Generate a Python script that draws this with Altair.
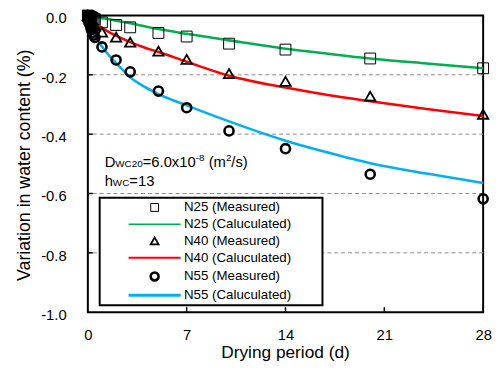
import altair as alt
import pandas as pd

# ---------------- data ----------------
days_meas = [0, 0.042, 0.083, 0.125, 0.167, 0.208, 0.25, 0.333, 0.417, 0.5,
             1, 2, 3, 5, 7, 10, 14, 20, 28]
n25_meas = [0, -0.002, -0.003, -0.004, -0.005, -0.006, -0.007, -0.009, -0.011, -0.013,
            -0.023, -0.032, -0.040, -0.059, -0.071, -0.095, -0.115, -0.145, -0.178]
n40_meas = [0, -0.004, -0.008, -0.012, -0.015, -0.018, -0.021, -0.026, -0.031, -0.036,
            -0.056, -0.073, -0.090, -0.120, -0.148, -0.196, -0.222, -0.272, -0.333]
n55_meas = [0, -0.010, -0.018, -0.026, -0.033, -0.040, -0.047, -0.057, -0.066, -0.074,
            -0.106, -0.150, -0.190, -0.255, -0.311, -0.389, -0.449, -0.535, -0.618]

days_calc = [0, 0.1, 0.25, 0.5, 1, 1.5, 2, 3, 4, 5, 7, 10, 14, 17, 20, 24, 28]
n25_calc = [0, -0.002, -0.003, -0.005, -0.009, -0.013, -0.018, -0.026, -0.036, -0.046,
            -0.062, -0.084, -0.112, -0.129, -0.145, -0.162, -0.178]
n40_calc = [0, -0.007, -0.015, -0.025, -0.042, -0.056, -0.068, -0.090, -0.108, -0.123,
            -0.156, -0.203, -0.243, -0.268, -0.289, -0.315, -0.339]
n55_calc = [0, -0.030, -0.050, -0.068, -0.105, -0.135, -0.160, -0.208, -0.240, -0.265,
            -0.303, -0.357, -0.422, -0.462, -0.498, -0.533, -0.565]

series_names = ["N25 (Measured)", "N25 (Caluculated)",
                "N40 (Measured)", "N40 (Caluculated)",
                "N55 (Measured)", "N55 (Caluculated)"]

x_ticks = [0, 7, 14, 21, 28]
y_ticks = [0, -0.2, -0.4, -0.6, -0.8, -1.0]
grid_vals = [-0.2, -0.4, -0.6, -0.8]
inner_x_ticks = [7, 14, 21]

x_title = "Drying period (d)"
y_title = "Variation in water content (%)"

# ---------------- styles ----------------
FONT = "Liberation Sans"
LINE_PATH = "M-6.6,0H6.6"
shape_range = ["square", LINE_PATH, "triangle-up", LINE_PATH, "circle", LINE_PATH]
stroke_range = ["black", "#00B050", "black", "#FF0000", "black", "#00B0F0"]
sw_range = [1.0, 3, 1.0, 3, 1.0, 3]

meas_df = pd.concat([
    pd.DataFrame({"day": days_meas, "value": v, "series": s})
    for v, s in [(n25_meas, series_names[0]), (n40_meas, series_names[2]), (n55_meas, series_names[4])]
])
calc_df = pd.concat([
    pd.DataFrame({"day": days_calc, "value": v, "series": s})
    for v, s in [(n25_calc, series_names[1]), (n40_calc, series_names[3]), (n55_calc, series_names[5])]
])

xscale = alt.Scale(domain=[0, 28], nice=False, zero=False)
yscale = alt.Scale(domain=[-1, 0], nice=False, zero=False)

leg = dict(
    title="\u00a0", titleOrient="right", titlePadding=29, titleFontSize=10,
    orient="none", legendX=12, legendY=185,
    strokeColor="black", fillColor="white",
    padding=3, rowPadding=2, symbolSize=64,
    symbolOffset=46, labelOffset=23,
    labelFont=FONT, labelFontSize=13.5, labelColor="black",
)

grid = alt.Chart(pd.DataFrame({"value": grid_vals})).mark_rule(
    color="#8c8c8c", strokeDash=[4, 3], strokeWidth=1
).encode(
    y=alt.Y("value:Q", scale=yscale,
            axis=alt.Axis(values=y_ticks, labelExpr="datum.value == 0 ? '0.0' : '-' + format(abs(datum.value), '.1f')",
                          labelFont=FONT, labelFontSize=15, labelColor="black", labelPadding=22,
                          labelOffset=2.5,
                          ticks=False, tickSize=0, domain=False, grid=False, title=None)),
)

xaxis_layer = alt.Chart(pd.DataFrame({"day": inner_x_ticks})).mark_rule(
    color="black", strokeWidth=1.5
).encode(
    x=alt.X("day:Q", scale=xscale,
            axis=alt.Axis(values=x_ticks, format="d", labelFlush=False,
                          labelFont=FONT, labelFontSize=15, labelColor="black", labelPadding=16,
                          ticks=False, tickSize=0, domain=False, grid=False, title=None)),
    y=alt.datum(-1.0),
    y2=alt.datum(-0.983),
)

yticks_layer = alt.Chart(pd.DataFrame({"value": grid_vals})).mark_rule(
    color="black", strokeWidth=1.5
).encode(
    y="value:Q",
    x=alt.datum(0),
    x2=alt.datum(0.35),
)

# axis titles as text placed through the scales (outside the plot area)
ytitle_layer = alt.Chart(pd.DataFrame({"t": [y_title]})).mark_text(
    angle=270, fontSize=18, font=FONT, color="black", align="center", baseline="middle"
).encode(x=alt.datum(-4.43), y=alt.datum(-0.505), text="t:N")

xtitle_layer = alt.Chart(pd.DataFrame({"t": [x_title]})).mark_text(
    fontSize=17.5, font=FONT, color="black", align="center", baseline="middle"
).encode(x=alt.datum(14), y=alt.datum(-1.1379), text="t:N")

lines = alt.Chart(calc_df).mark_line(strokeWidth=2.6, interpolate="monotone").encode(
    x="day:Q",
    y="value:Q",
    stroke=alt.Stroke("series:N", scale=alt.Scale(domain=series_names, range=stroke_range),
                      legend=alt.Legend(**leg)),
)

def pts(name, size):
    return alt.Chart(meas_df[meas_df.series == name]).mark_point(
        filled=False, size=size, opacity=1
    ).encode(
        x="day:Q",
        y="value:Q",
        shape=alt.Shape("series:N", scale=alt.Scale(domain=series_names, range=shape_range),
                        legend=alt.Legend(**leg)),
        stroke=alt.Stroke("series:N", scale=alt.Scale(domain=series_names, range=stroke_range),
                          legend=alt.Legend(**leg)),
        strokeWidth=alt.StrokeWidth("series:N", scale=alt.Scale(domain=series_names, range=sw_range),
                                    legend=alt.Legend(**leg)),
    )

pts_sq = pts(series_names[0], 121)
pts_tri = pts(series_names[2], 110)
pts_cir = pts(series_names[4], 85)

# annotation text segments: (text, fontsize, raise, extra gap before)
F, f = 15, 10
widths = {"D": 722, "W": 944, "C": 722, "h": 556, "=": 584, ".": 278, "x": 500, "-": 333,
          " ": 278, "(": 333, ")": 333, "m": 833, "/": 278, "s": 500}
def tw(t, size):
    return sum(widths.get(ch, 556) for ch in t) * size / 1000.0

line1 = [("D", F, 0, 0), ("WC20", f, 0, 0), ("=6.0x10", F, 0, 0), ("-8", f, -6, 0),
         ("(m", F, 0, 4.2), ("2", f, -6, 0), ("/s)", F, 0, 0)]
line2 = [("h", F, 0, 0), ("WC", f, 0, 0), ("=13", F, 0, 0)]
anchors = [(pd.DataFrame({"day": [1.19], "value": [-0.5116]}), line1),
           (pd.DataFrame({"day": [1.19], "value": [-0.5734]}), line2)]
texts = []
for adf, segs in anchors:
    off = 0.0
    for t, size, rise, gap in segs:
        off += gap
        texts.append(alt.Chart(adf).mark_text(
            text=t, fontSize=size, font=FONT, color="black", align="left",
            baseline="alphabetic", dx=off, dy=rise
        ).encode(x="day:Q", y="value:Q"))
        off += tw(t, size)

chart = alt.layer(grid, xaxis_layer, yticks_layer, lines, pts_sq, pts_tri, pts_cir,
                  ytitle_layer, xtitle_layer, *texts).properties(
    width=401, height=301,
    padding={"left": 81, "top": 5, "right": 10, "bottom": 50},
    autosize=alt.AutoSizeParams(type="none"),
).configure(font=FONT).configure_view(stroke="black", strokeWidth=2).configure_legend(strokeWidth=2)

chart.save("out.html", embed_options={"renderer": "svg", "actions": False})
